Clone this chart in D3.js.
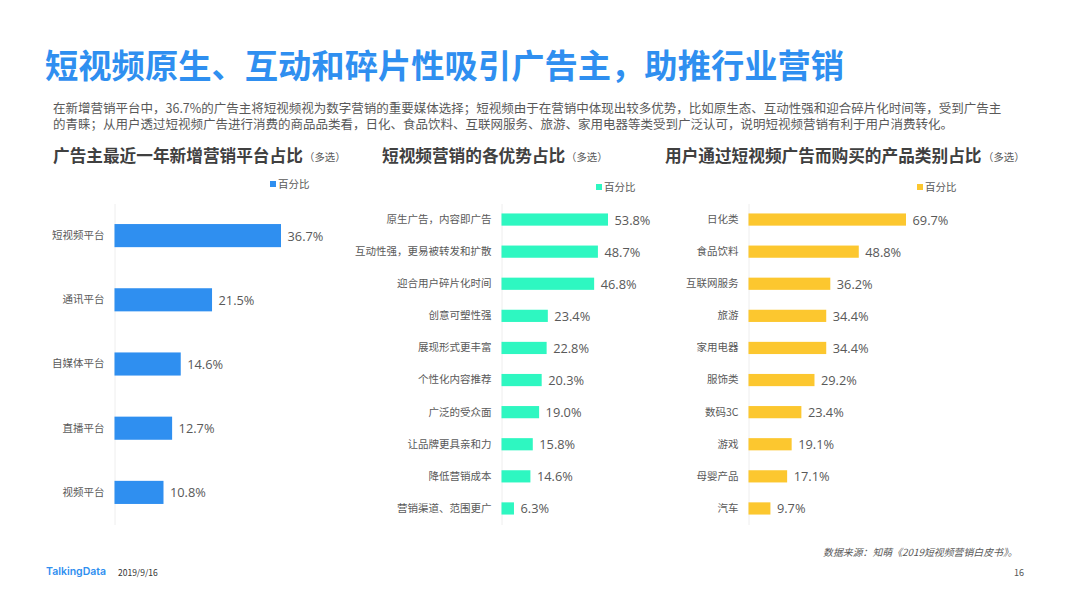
<!DOCTYPE html>
<html>
<head>
<meta charset="utf-8">
<script src="https://cdn.jsdelivr.net/npm/d3@7"></script>
<style>
  html, body { margin: 0; padding: 0; background: #fff; }
  svg { display: block; }
  text { font-family: "Noto Sans CJK SC", "Noto Sans", sans-serif; }
</style>
</head>
<body>
<svg id="chart" width="1066" height="599"></svg>
<script>
// chart values
const platformNames = ["短视频平台", "通讯平台", "自媒体平台", "直播平台", "视频平台"];
const platformValues = [36.7, 21.5, 14.6, 12.7, 10.8];

const advantageNames = ["原生广告，内容即广告", "互动性强，更易被转发和扩散", "迎合用户碎片化时间", "创意可塑性强", "展现形式更丰富",
  "个性化内容推荐", "广泛的受众面", "让品牌更具亲和力", "降低营销成本", "营销渠道、范围更广"];
const advantageValues = [53.8, 48.7, 46.8, 23.4, 22.8, 20.3, 19.0, 15.8, 14.6, 6.3];

const productNames = ["日化类", "食品饮料", "互联网服务", "旅游", "家用电器", "服饰类", "数码3C", "游戏", "母婴产品", "汽车"];
const productValues = [69.7, 48.8, 36.2, 34.4, 34.4, 29.2, 23.4, 19.1, 17.1, 9.7];

const svg = d3.select("#chart");
const textColor = "#595959";

function addText(x, y, str, size, color, weight, anchor) {
  return svg.append("text")
    .attr("x", x).attr("y", y)
    .attr("font-size", size)
    .attr("fill", color)
    .attr("font-weight", weight || 400)
    .attr("text-anchor", anchor || "start")
    .text(str);
}

// Draw one horizontal bar panel
function drawBars(names, values, opts) {
  const xScale = d3.scaleLinear()
    .domain([0, d3.max(values)])
    .range([opts.left, opts.right]);
  const yScale = d3.scaleBand()
    .domain(names)
    .range([203.5, 524.5])
    .paddingInner(opts.padding)
    .paddingOuter(opts.padding / 2);

  const g = svg.append("g");

  const yAxis = d3.axisLeft(yScale).tickSize(0).tickPadding(10);
  const axisG = g.append("g").attr("transform", `translate(${opts.left},0)`).call(yAxis);
  axisG.select(".domain").attr("stroke", "#eeeeee");
  axisG.selectAll("text")
    .attr("font-size", 10.5)
    .attr("fill", textColor)
    .style("font-family", '"Noto Sans CJK SC", sans-serif');

  g.selectAll("rect.bar")
    .data(values)
    .join("rect")
    .attr("class", "bar")
    .attr("x", opts.left)
    .attr("y", (d, i) => yScale(names[i]))
    .attr("width", d => xScale(d) - opts.left)
    .attr("height", yScale.bandwidth())
    .attr("fill", opts.color);

  g.selectAll("text.val")
    .data(values)
    .join("text")
    .attr("class", "val")
    .attr("x", d => xScale(d) + 6.5)
    .attr("y", (d, i) => yScale(names[i]) + yScale.bandwidth() / 2 + 5)
    .attr("font-size", 12.8)
    .attr("fill", textColor)
    .style("font-family", '"Open Sans", sans-serif')
    .text(d => d.toFixed(1) + "%");

  // legend
  svg.append("rect")
    .attr("x", opts.legendX).attr("y", opts.legendY - 3)
    .attr("width", 6).attr("height", 6)
    .attr("fill", opts.color);
  addText(opts.legendX + 8, opts.legendY + 3.5, "百分比", 10.5, textColor);
}

// Title and intro
addText(45, 78, "短视频原生、互动和碎片性吸引广告主，助推行业营销", 33.3, "#2f8ff0", 700);
addText(53, 113, "在新增营销平台中，36.7%的广告主将短视频视为数字营销的重要媒体选择；短视频由于在营销中体现出较多优势，比如原生态、互动性强和迎合碎片化时间等，受到广告主", 12.5, textColor);
addText(53, 129, "的青睐；从用户透过短视频广告进行消费的商品品类看，日化、食品饮料、互联网服务、旅游、家用电器等类受到广泛认可，说明短视频营销有利于用户消费转化。", 12.5, textColor);

// Panel headings
addText(53, 161.5, "广告主最近一年新增营销平台占比", 16.67, "#404040", 700);
addText(304, 161, "（多选）", 10.4, textColor);
addText(382, 161.5, "短视频营销的各优势占比", 16.67, "#404040", 700);
addText(566, 161, "（多选）", 10.4, textColor);
addText(665, 161.5, "用户通过短视频广告而购买的产品类别占比", 16.67, "#404040", 700);
addText(983, 161, "（多选）", 10.4, textColor);

drawBars(platformNames, platformValues, { left: 114.5, right: 281, padding: 0.64, color: "#2f8ff0", legendX: 270, legendY: 184 });
drawBars(advantageNames, advantageValues, { left: 501.5, right: 608, padding: 0.62, color: "#2ef7c1", legendX: 596, legendY: 187 });
drawBars(productNames, productValues, { left: 748.5, right: 906, padding: 0.62, color: "#fcc72f", legendX: 917, legendY: 187 });

// Footer
addText(823, 556, "数据来源：知萌《2019短视频营销白皮书》。", 9.9, textColor).attr("font-style", "italic");
addText(46, 575, "TalkingData", 10.5, "#2f8ff0", 600).style("font-family", "Inter");
addText(118, 575.5, "2019/9/16", 8.5, "#333333");
addText(1024, 576, "16", 9, "#555555", 400, "end");
</script>
</body>
</html>
